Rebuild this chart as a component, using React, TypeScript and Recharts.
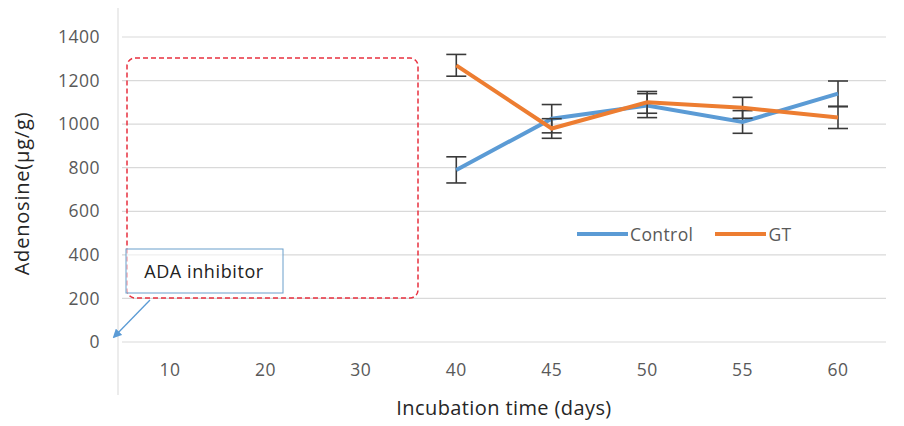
import {CartesianGrid, ErrorBar, Legend, Line, LineChart, XAxis, YAxis} from "recharts";

// incubation days (categorical axis)
const days = ['10', '20', '30', '40', '45', '50', '55', '60'];
const control = [null, null, null, 790, 1025, 1085, 1010, 1140];
const controlErr = [null, null, null, 60, 65, 55, 52, 58];
const gt = [null, null, null, 1270, 980, 1100, 1075, 1030];
const gtErr = [null, null, null, 50, 45, 50, 48, 50];
const yTicks = [0, 200, 400, 600, 800, 1000, 1200, 1400];

const BLUE = '#5B9BD5';
const ORANGE = '#ED7D31';
const FONT = '"Open Sans", sans-serif';

const data = days.map((d, i) => ({
    day: d,
    control: control[i],
    controlErr: controlErr[i],
    gt: gt[i],
    gtErr: gtErr[i],
}));

function LegendContent(props: any) {
    const payload = props.payload || [];
    return (
        <div style={{display: 'flex', alignItems: 'center', fontFamily: FONT, fontSize: 17.5, color: '#595959', letterSpacing: 0.4}}>
            {payload.map((p: any) => (
                <div key={p.value} style={{display: 'flex', alignItems: 'center', marginRight: 22}}>
                    <span style={{display: 'inline-block', width: 51, height: 4, background: p.color, marginRight: 2}}/>
                    <span>{p.value}</span>
                </div>
            ))}
        </div>
    );
}

export default function App() {
    return (
        <div style={{position: 'relative', width: 888, height: 418}}>
            <LineChart width={888} height={418} data={data} margin={{top: 29, right: 10, bottom: 0, left: 0}}>
                <CartesianGrid vertical={false} stroke="#d9d9d9" strokeWidth={1.2}/>
                <XAxis
                    dataKey="day"
                    axisLine={false}
                    tickLine={false}
                    tickSize={0}
                    tickMargin={22}
                    height={84}
                    padding={{left: 48, right: 48}}
                    tick={{fill: '#595959', fontSize: 17.5, fontFamily: FONT, letterSpacing: 0.5}}
                    label={{value: 'Incubation time (days)', position: 'insideBottom', offset: 11, fill: '#262626', fontSize: 20, fontFamily: FONT, letterSpacing: 0.4}}
                />
                <YAxis
                    width={114}
                    domain={[0, 1400]}
                    ticks={yTicks}
                    axisLine={false}
                    tickLine={false}
                    tickSize={0}
                    tickMargin={22}
                    tick={{fill: '#595959', fontSize: 17.5, fontFamily: FONT, letterSpacing: 0.5}}
                    label={{value: 'Adenosine(μg/g)', angle: -90, position: 'insideLeft', offset: 14, dy: 4, fill: '#262626', fontSize: 20, fontFamily: FONT, letterSpacing: 0.8, style: {textAnchor: 'middle'}}}
                />
                <Legend
                    layout="horizontal"
                    verticalAlign="middle"
                    align="center"
                    content={<LegendContent/>}
                    wrapperStyle={{position: 'absolute', left: 569, top: 214, width: 280}}
                />
                <Line name="Control" dataKey="control" stroke={BLUE} strokeWidth={4} dot={false} isAnimationActive={false}>
                    <ErrorBar dataKey="controlErr" direction="y" width={10} stroke="#3a3a3a" strokeWidth={1.6}/>
                </Line>
                <Line name="GT" dataKey="gt" stroke={ORANGE} strokeWidth={4} dot={false} isAnimationActive={false}>
                    <ErrorBar dataKey="gtErr" direction="y" width={10} stroke="#3a3a3a" strokeWidth={1.6}/>
                </Line>
            </LineChart>
            {/* drawn annotations on top of the figure */}
            <svg width={904} height={426} style={{position: 'absolute', left: -8, top: -8, pointerEvents: 'none'}}>
                <defs>
                    <marker id="arrow" viewBox="0 0 10 10" refX="8" refY="5" markerWidth="7" markerHeight="7" orient="auto">
                        <path d="M0,0 L10,5 L0,10 z" fill={BLUE}/>
                    </marker>
                </defs>
                <line x1={118} y1={0} x2={118} y2={395} stroke="#d9d9d9" strokeWidth={1}/>
                <rect x={127} y={58} width={291} height={240} rx={8} fill="none" stroke="#e8303f" strokeWidth={1.5} strokeDasharray="5 3"/>
                <rect x={126} y={249} width={157} height={44} fill="rgba(255,255,255,0.6)" stroke="#6a9fcb" strokeWidth={1}/>
                <text x={204} y={278} textAnchor="middle" fontFamily={FONT} fontSize={18} letterSpacing={0.6} fill="#222">ADA inhibitor</text>
                <line x1={150} y1={300} x2={114} y2={337} stroke={BLUE} strokeWidth={1.3} markerEnd="url(#arrow)"/>
            </svg>
        </div>
    );
}
